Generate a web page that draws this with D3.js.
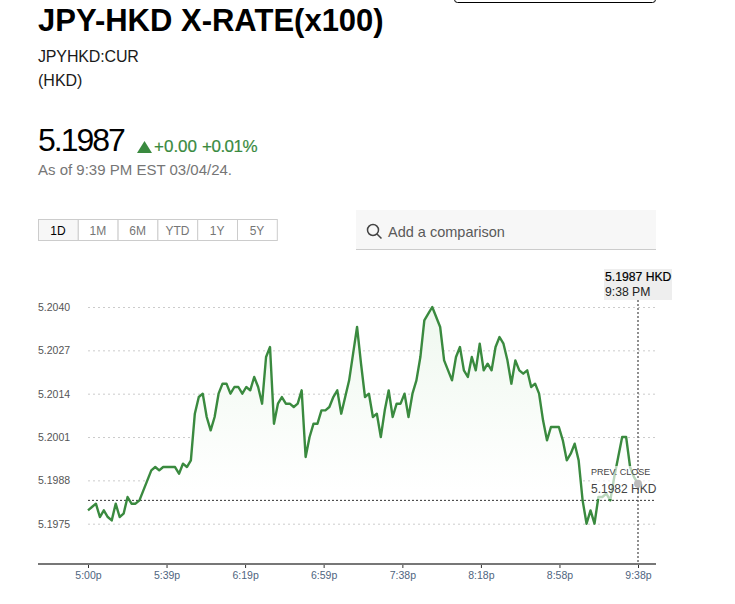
<!DOCTYPE html>
<html>
<head>
<meta charset="utf-8">
<script src="https://cdn.jsdelivr.net/npm/d3@7"></script>
<style>
  body { margin: 0; background: #fff; }
  svg { display: block; font-family: "Liberation Sans", Arial, sans-serif; }
</style>
</head>
<body>
<svg id="chart"></svg>
<script>
// Rate every 2 minutes from 5:00p to 9:38p
const rates = [
  5.1979, 5.1980, 5.1981, 5.1977, 5.1979, 5.1977, 5.1976, 5.1981, 5.1977, 5.1978,
  5.1983, 5.1981, 5.1981, 5.1982, 5.1985, 5.1988, 5.1991, 5.1992, 5.1991, 5.1992,
  5.1992, 5.1992, 5.1992, 5.1990, 5.1993, 5.1992, 5.1994, 5.2008, 5.2013, 5.2014,
  5.2007, 5.2003, 5.2007, 5.2014, 5.2017, 5.2017, 5.2014, 5.2016, 5.2016, 5.2014,
  5.2016, 5.2015, 5.2019, 5.2016, 5.2011, 5.2025, 5.2028, 5.2005, 5.2011, 5.2013,
  5.2011, 5.2011, 5.2010, 5.2011, 5.2015, 5.1995, 5.2001, 5.2005, 5.2005, 5.2009,
  5.2009, 5.2010, 5.2013, 5.2015, 5.2008, 5.2013, 5.2018, 5.2026, 5.2034, 5.2023,
  5.2013, 5.2014, 5.2007, 5.2008, 5.2001, 5.2009, 5.2015, 5.2007, 5.2011, 5.2011,
  5.2014, 5.2007, 5.2014, 5.2018, 5.2025, 5.2036, 5.2038, 5.2040, 5.2037, 5.2034,
  5.2024, 5.2021, 5.2018, 5.2025, 5.2028, 5.2021, 5.2019, 5.2025, 5.2021, 5.2029,
  5.2021, 5.2023, 5.2021, 5.2028, 5.2031, 5.2029, 5.2024, 5.2017, 5.2024, 5.2021,
  5.2020, 5.2021, 5.2016, 5.2017, 5.2014, 5.2006, 5.2000, 5.2004, 5.2004, 5.2004,
  5.2000, 5.1994, 5.1996, 5.1999, 5.1994, 5.1982, 5.1975, 5.1979, 5.1975, 5.1983,
  5.1983, 5.1984, 5.1982, 5.1989, 5.1995, 5.2001, 5.2001, 5.1992, 5.1989, 5.1987
];
const yTicks = [5.2040, 5.2027, 5.2014, 5.2001, 5.1988, 5.1975];
const xTickMinutes = [0, 39.7, 79.4, 119.1, 158.9, 198.6, 238.3, 278];
const xTickLabels = ["5:00p", "5:39p", "6:19p", "6:59p", "7:38p", "8:18p", "8:58p", "9:38p"];
const prevClose = 5.1982;
const ranges = ["1D", "1M", "6M", "YTD", "1Y", "5Y"];

const width = 735, height = 604;
const green = "#3a8a3f";

const svg = d3.select("#chart").attr("width", width).attr("height", height);

// Header text
function label(x, y, txt, size, fill, weight) {
  return svg.append("text").attr("x", x).attr("y", y).text(txt)
    .attr("font-size", size).attr("fill", fill).attr("font-weight", weight || 400);
}
label(38, 31, "JPY-HKD X-RATE(x100)", 31, "#000", 700);
label(38, 62, "JPYHKD:CUR", 16, "#1a1a1a").attr("letter-spacing", -0.15);
label(38, 86, "(HKD)", 16, "#1a1a1a");
label(38, 151, "5.1987", 32, "#000").attr("letter-spacing", -2);
svg.append("path").attr("d", "M137,153L144.5,141L152,153Z").attr("fill", green);
label(154, 152, "+0.00", 17, green).attr("stroke", green).attr("stroke-width", 0.2);
label(202, 152, "+0.01%", 17, green).attr("letter-spacing", -0.5).attr("stroke", green).attr("stroke-width", 0.2);
label(38, 175, "As of 9:39 PM EST 03/04/24.", 15, "#767676");

// Box cut off by the top of the page
svg.append("rect").attr("x", 454.5).attr("y", -8).attr("width", 201).attr("height", 10.5)
  .attr("rx", 3).attr("fill", "#fff").attr("stroke", "#000");

// Range buttons
const btn = svg.selectAll(".range").data(ranges).enter().append("g").attr("class", "range")
  .attr("transform", (d, i) => `translate(${38.5 + i * 39.8}, 219.5)`);
btn.append("rect").attr("width", 39.8).attr("height", 21)
  .attr("fill", (d, i) => i == 0 ? "#f7f7f7" : "#fff").attr("stroke", "#ccc");
btn.append("text").attr("x", 19.5).attr("y", 15).attr("text-anchor", "middle")
  .attr("font-size", 12).attr("fill", (d, i) => i == 0 ? "#000" : "#767676").text(d => d);

// Comparison box
svg.append("rect").attr("x", 356).attr("y", 210).attr("width", 300).attr("height", 39).attr("fill", "#f7f7f7");
svg.append("line").attr("x1", 356).attr("x2", 656).attr("y1", 249.5).attr("y2", 249.5).attr("stroke", "#ccc");
svg.append("circle").attr("cx", 373).attr("cy", 230).attr("r", 5.5).attr("fill", "none").attr("stroke", "#444").attr("stroke-width", 1.5);
svg.append("line").attr("x1", 377).attr("y1", 234).attr("x2", 381.5).attr("y2", 238.5).attr("stroke", "#444").attr("stroke-width", 1.5);
label(388, 237, "Add a comparison", 14.5, "#5a5a5a");

// Scales
const xScale = d3.scaleLinear().domain([0, 278]).range([88, 638]);
const yScale = d3.scaleLinear().domain([5.1975, 5.2040]).range([523.7, 307]);
const points = rates.map((d, i) => ({ minute: i * 2, rate: d }));

// Grid and y axis
const yAxis = svg.append("g").attr("transform", "translate(88, 0)")
  .call(d3.axisLeft(yScale).tickValues(yTicks).tickFormat(d3.format(".4f")).tickSize(-568));
yAxis.select(".domain").remove();
yAxis.selectAll("line").attr("stroke", "#ccc").attr("stroke-width", 1).attr("stroke-dasharray", "2,3");
yAxis.selectAll("text").attr("x", -50).attr("text-anchor", "start")
  .attr("font-size", 10.5).attr("fill", "#555").attr("font-family", "Liberation Sans");

// Area under the line
const grad = svg.append("defs").append("linearGradient").attr("id", "fade")
  .attr("gradientUnits", "userSpaceOnUse").attr("x1", 0).attr("x2", 0)
  .attr("y1", yScale(5.2040)).attr("y2", yScale(5.1985));
grad.append("stop").attr("offset", 0).attr("stop-color", "#eff8ef");
grad.append("stop").attr("offset", 1).attr("stop-color", "#ffffff");

const area = d3.area().x(d => xScale(d.minute)).y0(yScale(prevClose)).y1(d => yScale(d.rate));
svg.append("path").datum(points).attr("d", area.defined(d => d.rate >= prevClose)).attr("fill", "url(#fade)");

// Previous close line
svg.append("line").attr("x1", xScale(0)).attr("x2", 656)
  .attr("y1", yScale(prevClose)).attr("y2", yScale(prevClose))
  .attr("stroke", "#333").attr("stroke-width", 1).attr("stroke-dasharray", "2,2");

// Price line
const line = d3.line().x(d => xScale(d.minute)).y(d => yScale(d.rate));
svg.append("path").datum(points).attr("d", line).attr("fill", "none")
  .attr("stroke", green).attr("stroke-width", 2.4).attr("stroke-linejoin", "round");

// X axis
const xAxis = svg.append("g").attr("transform", "translate(0, 564)")
  .call(d3.axisBottom(xScale).tickValues(xTickMinutes)
    .tickFormat((d, i) => xTickLabels[i]).tickSize(4).tickPadding(4));
xAxis.select(".domain").remove();
xAxis.selectAll("line").attr("stroke", "#333");
xAxis.selectAll("text").attr("font-size", 10.5).attr("fill", "#4f6580").attr("font-family", "Liberation Sans");
svg.append("line").attr("x1", 38).attr("x2", 656).attr("y1", 564).attr("y2", 564)
  .attr("stroke", "#777").attr("stroke-width", 2);

// Prev close label, sits over the line and washes it out
svg.append("rect").attr("x", 591).attr("y", 466).attr("width", 65).attr("height", 33)
  .attr("fill", "#fff").attr("fill-opacity", 0.65);
label(591, 475, "PREV. CLOSE", 9, "#444");
label(591, 493, "5.1982 HKD", 12, "#444");

// Crosshair and latest point
const last = points[points.length - 1];
svg.append("line").attr("x1", xScale(last.minute)).attr("x2", xScale(last.minute))
  .attr("y1", 300).attr("y2", 564).attr("stroke", "#555").attr("stroke-width", 1.3).attr("stroke-dasharray", "2,2");
svg.append("circle").attr("cx", xScale(last.minute)).attr("cy", yScale(last.rate)).attr("r", 4).attr("fill", "#bbb");

svg.append("rect").attr("x", 604).attr("y", 269).attr("width", 68).attr("height", 31).attr("fill", "#eee");
label(605, 281, "5.1987 HKD", 12.2, "#000").attr("stroke", "#000").attr("stroke-width", 0.2);
label(605, 296, "9:38 PM", 12.2, "#222");
</script>
</body>
</html>
